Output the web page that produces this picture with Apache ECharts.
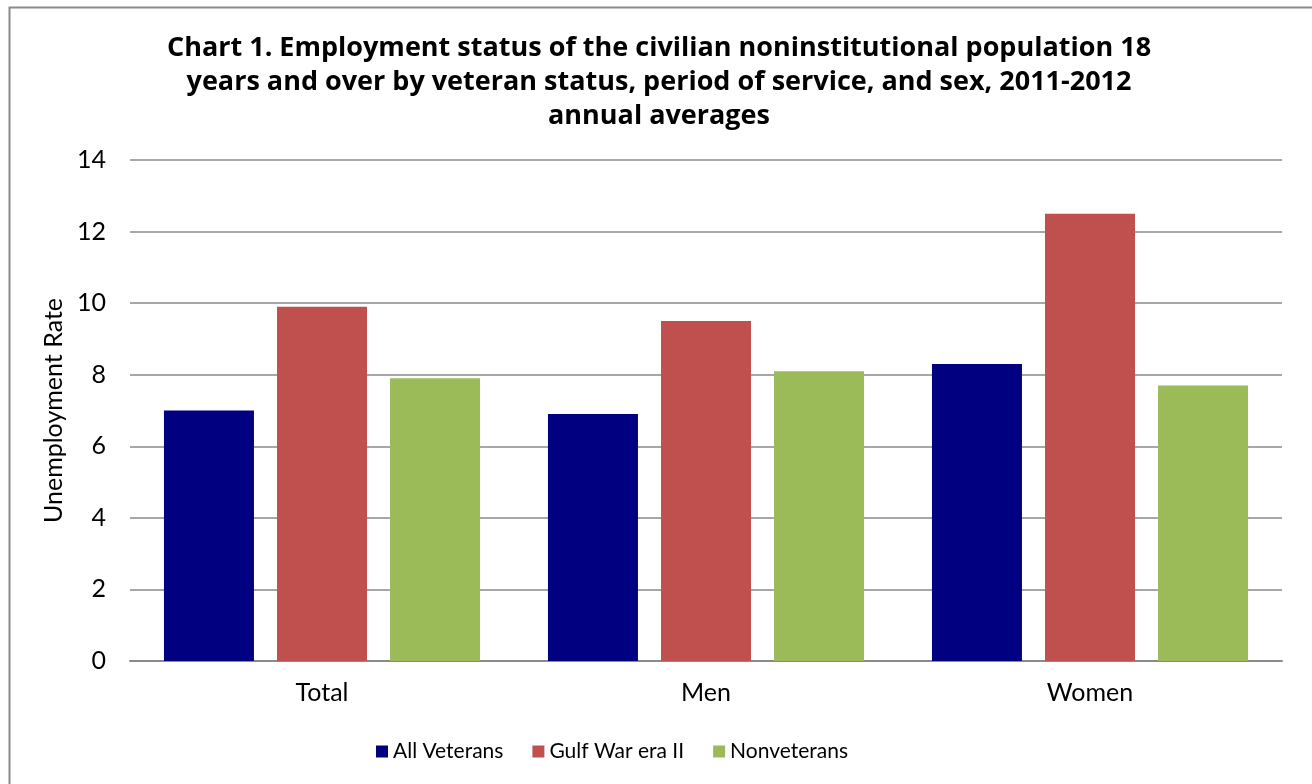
<!DOCTYPE html>
<html>
<head>
<meta charset="utf-8">
<script src="https://cdn.jsdelivr.net/npm/echarts@6/dist/echarts.min.js"></script>
<style>
html,body{margin:0;padding:0;background:#fff;}
#chart{width:1312px;height:784px;}
</style>
</head>
<body>
<div id="chart"></div>
<script>
const categories = ['Total', 'Men', 'Women'];
const allVeterans = [7.0, 6.9, 8.3];
const gulfWarEraII = [9.9, 9.5, 12.5];
const nonveterans = [7.9, 8.1, 7.7];
const seriesNames = ['All Veterans', 'Gulf War era II', 'Nonveterans'];
const titleText = 'Chart 1. Employment status of the civilian noninstitutional population 18\nyears and over by veteran status, period of service, and sex, 2011-2012\nannual averages';

const FONT = 'Lato, "Open Sans", sans-serif';
const TITLE_FONT = '"Open Sans", Lato, sans-serif';
const chart = echarts.init(document.getElementById('chart'));
chart.setOption({
  animation: false,
  textStyle: {fontFamily: FONT},
  graphic: [{
    type: 'rect', left: 7, top: 5,
    shape: {width: 1304, height: 800},
    style: {fill: 'none', stroke: '#8a8a8a', lineWidth: 2},
    silent: true
  }],
  title: {
    text: titleText,
    left: 654, top: 26, textAlign: 'center',
    textStyle: {fontFamily: TITLE_FONT, fontSize: 27, fontWeight: 'bold', color: '#000', lineHeight: 34}
  },
  legend: {
    data: seriesNames,
    top: 736, left: 371,
    itemWidth: 12, itemHeight: 12, itemGap: 29,
    icon: 'rect',
    textStyle: {fontFamily: FONT, fontSize: 21, color: '#000'}
  },
  grid: {left: 130, right: 30, top: 160, bottom: 123, containLabel: false},
  xAxis: {
    type: 'category', data: categories,
    axisLine: {lineStyle: {color: '#8a8a8a', width: 2}},
    axisTick: {show: false},
    axisLabel: {fontFamily: FONT, fontSize: 25, color: '#000', margin: 19}
  },
  yAxis: {
    type: 'value', min: 0, max: 14, interval: 2,
    name: 'Unemployment Rate', nameLocation: 'middle', nameGap: 61, nameRotate: 90,
    nameTextStyle: {fontFamily: FONT, fontSize: 25, color: '#000'},
    axisLine: {show: false},
    axisTick: {show: false},
    axisLabel: {fontFamily: FONT, fontSize: 25, color: '#000', margin: 24},
    splitLine: {lineStyle: {color: '#8a8a8a', width: 1.5}}
  },
  series: [
    {name: seriesNames[0], type: 'bar', data: allVeterans, itemStyle: {color: '#000080'}, barWidth: 90, barGap: '25.6%'},
    {name: seriesNames[1], type: 'bar', data: gulfWarEraII, itemStyle: {color: '#C0504D'}, barWidth: 90, barGap: '25.6%'},
    {name: seriesNames[2], type: 'bar', data: nonveterans, itemStyle: {color: '#9BBB59'}, barWidth: 90, barGap: '25.6%'}
  ]
});
</script>
</body>
</html>
